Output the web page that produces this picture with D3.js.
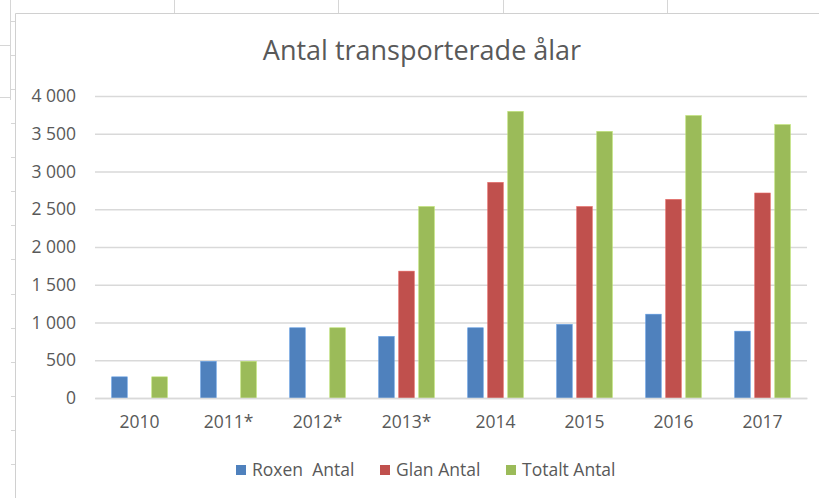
<!DOCTYPE html>
<html>
<head>
<meta charset="utf-8">
<script src="https://cdn.jsdelivr.net/npm/d3@7"></script>
<style>
    body { margin: 0; background: #fff; }
    svg text { font-family: "Open Sans", sans-serif; fill: #595959; }
</style>
</head>
<body>
<script>
// données
var years = ["2010", "2011*", "2012*", "2013*", "2014", "2015", "2016", "2017"];
var series = ["Roxen  Antal", "Glan Antal", "Totalt Antal"];
var roxen = [280, 485, 930, 815, 930, 975, 1110, 885];
var glan = [0, 0, 0, 1680, 2855, 2535, 2630, 2715];
var totalt = [280, 485, 930, 2535, 3795, 3530, 3740, 3620];
var colors = ["#4F81BD", "#C0504D", "#9BBB59"];
var yTicks = [0, 500, 1000, 1500, 2000, 2500, 3000, 3500, 4000];

var width = 819;
var height = 498;

var svg = d3.select("body")
    .append("svg")
    .attr("width", width)
    .attr("height", height);

// bout de feuille excel derrière le graphe
var grid = svg.append("g").attr("stroke", "#d6d6d6").attr("stroke-width", 1);
[174, 338, 503, 667].forEach(function (x) {
    grid.append("line").attr("x1", x + 0.5).attr("x2", x + 0.5).attr("y1", 0).attr("y2", 13);
});
grid.append("line").attr("x1", 10.5).attr("x2", 10.5).attr("y1", 0).attr("y2", 100);
[45, 97].forEach(function (y) {
    grid.append("line").attr("x1", 0).attr("x2", 10).attr("y1", y + 0.5).attr("y2", y + 0.5);
});
for (var k = 0; k < 15; k++) {
    var yy = Math.round(20.7 + 34.1 * k) + 0.5;
    grid.append("line").attr("x1", 11).attr("x2", 15).attr("y1", yy).attr("y2", yy);
}

// cadre du graphe
svg.append("path")
    .attr("d", "M15.5," + height + "V13.5H" + width)
    .attr("fill", "none")
    .attr("stroke", "#d0d0d0");

// titre
svg.append("text")
    .attr("x", 422)
    .attr("y", 60)
    .attr("text-anchor", "middle")
    .style("font-size", "27px")
    .text("Antal transporterade ålar");

// échelles
var x0 = d3.scaleBand()
    .domain(years)
    .range([95, 807])
    .paddingInner(0.326)
    .paddingOuter(0.163);

var x1 = d3.scaleBand()
    .domain(series)
    .range([0, x0.bandwidth()])
    .paddingInner(0.225)
    .paddingOuter(0.11);

var yscale = d3.scaleLinear()
    .domain([0, 4000])
    .range([398, 96]);

var fmt = function (d) { return d3.format(",")(d).replace(",", " "); };

// axe y (grille)
var y_axis = d3.axisLeft(yscale)
    .tickValues(yTicks)
    .tickSize(-(807 - 95))
    .tickPadding(19)
    .tickFormat(fmt);

var gy = svg.append("g")
    .attr("transform", "translate(95, 0)")
    .call(y_axis);
gy.select(".domain").remove();
gy.selectAll(".tick line").attr("stroke", "#d9d9d9").attr("stroke-width", 1.3);
gy.selectAll(".tick text").style("font-size", "17.5px").attr("fill", "#595959");

// barres
var rows = years.map(function (y, i) {
    return { year: y, values: [roxen[i], glan[i], totalt[i]] };
});

var groups = svg.append("g")
    .selectAll("g")
    .data(rows)
    .enter()
    .append("g")
    .attr("transform", function (d) { return "translate(" + x0(d.year) + ",0)"; });

groups.selectAll("rect")
    .data(function (d) { return d.values.map(function (v, j) { return { s: series[j], v: v, j: j }; }); })
    .enter()
    .filter(function (d) { return d.v > 0; })
    .append("rect")
    .attr("x", function (d) { return x1(d.s); })
    .attr("y", function (d) { return yscale(d.v); })
    .attr("width", x1.bandwidth())
    .attr("height", function (d) { return yscale(0) - yscale(d.v); })
    .attr("fill", function (d) { return colors[d.j]; })
    .attr("stroke", function (d) { return d3.color(colors[d.j]).brighter(0.5); })
    .attr("stroke-width", 0.6);

// axe x
var x_axis = d3.axisBottom(x0).tickSize(0).tickPadding(18);
var gx = svg.append("g")
    .attr("transform", "translate(0, 398)")
    .call(x_axis);
gx.select(".domain").attr("stroke", "#d9d9d9").attr("stroke-width", 1.3);
gx.selectAll(".tick text").style("font-size", "17.5px").attr("fill", "#595959");

// légende
var legendX = [236, 380, 506];
var legend = svg.append("g")
    .selectAll("g")
    .data(series)
    .enter()
    .append("g")
    .attr("transform", function (d, i) { return "translate(" + legendX[i] + ", 470)"; });

legend.append("rect")
    .attr("x", 0)
    .attr("y", -5)
    .attr("width", 10)
    .attr("height", 10)
    .attr("fill", function (d, i) { return colors[i]; });

legend.append("text")
    .attr("x", 16)
    .attr("dy", "0.35em")
    .style("font-size", "17.5px")
    .style("white-space", "pre")
    .text(function (d) { return d; });
</script>
</body>
</html>
